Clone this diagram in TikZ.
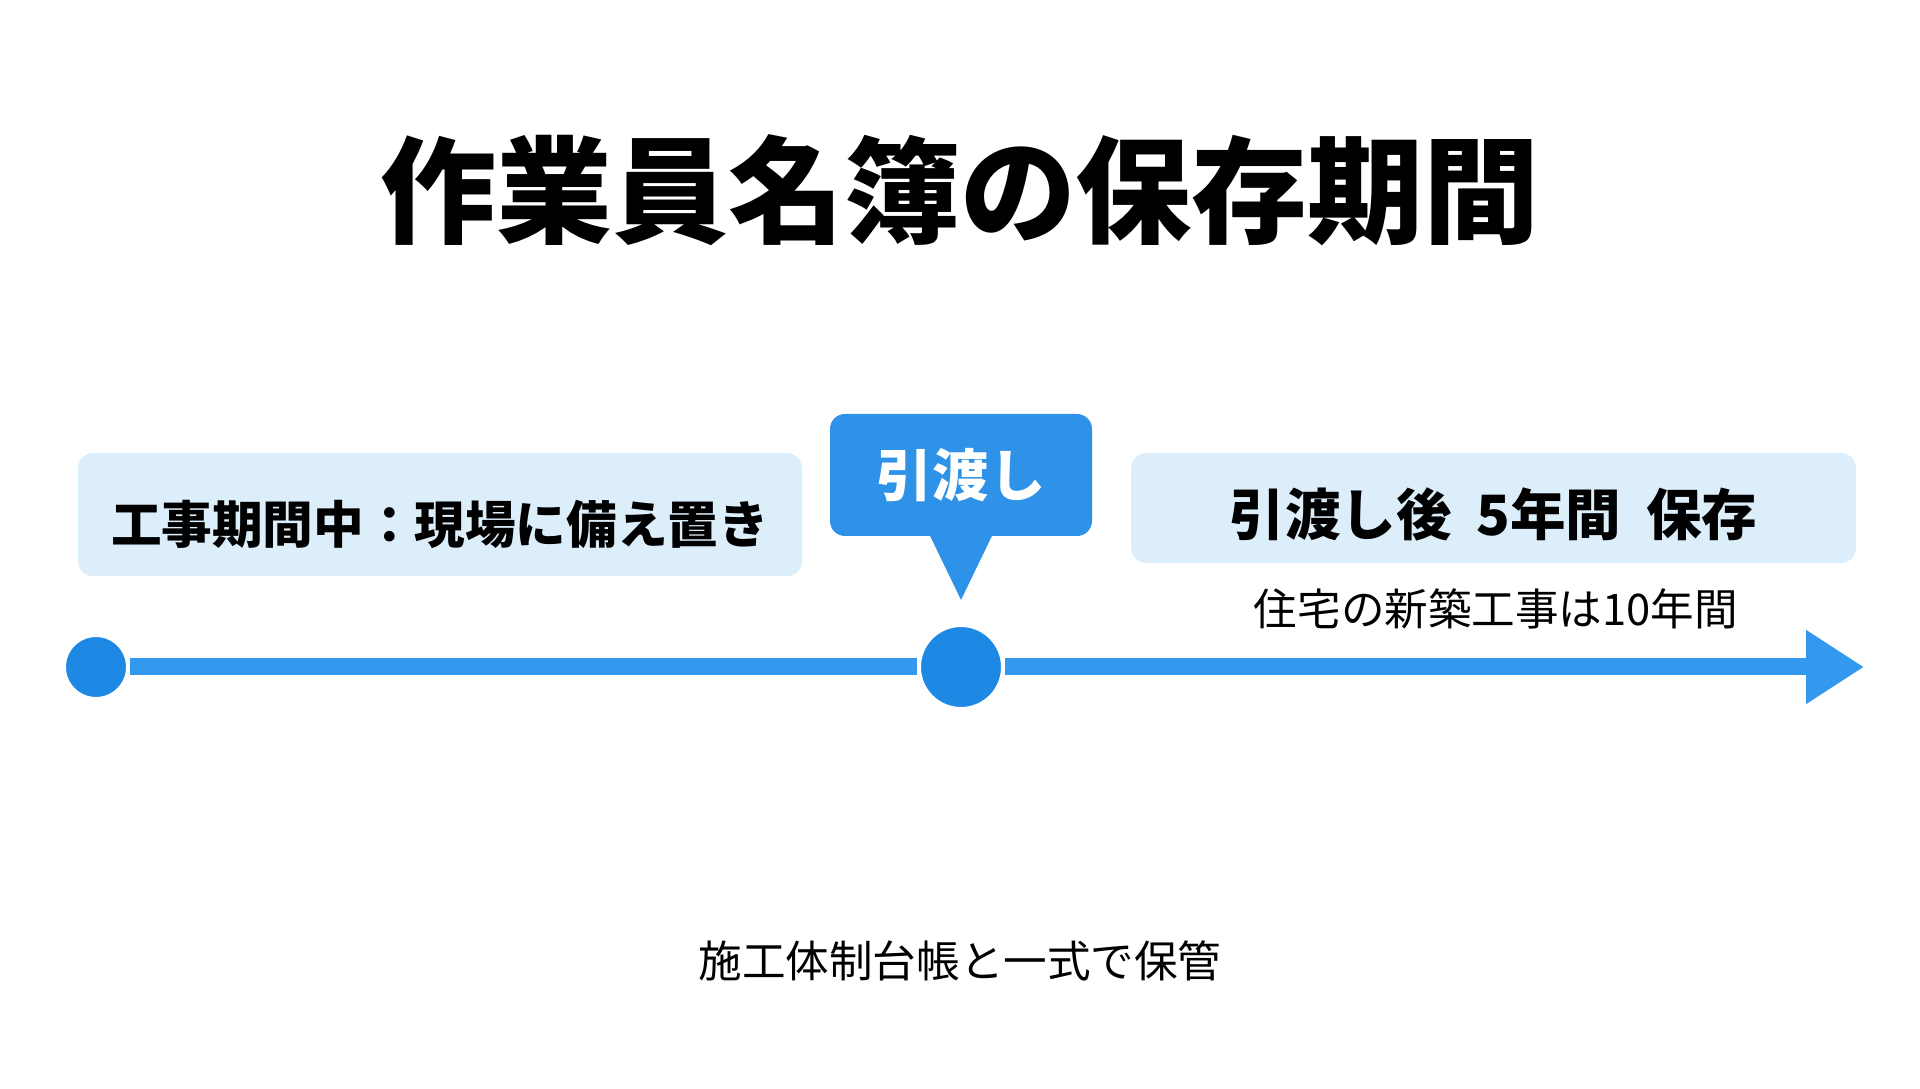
\documentclass[tikz,border=0pt]{standalone}
\usepackage{fontspec}
\usepackage{tikz}
\usetikzlibrary{arrows.meta}
\newfontfamily\jp{Noto Sans CJK JP}
\definecolor{paleblue}{HTML}{DDEEFB}
\definecolor{callblue}{HTML}{2E93E8}
\definecolor{lineblue}{HTML}{3399EE}
\definecolor{dotblue}{HTML}{1E88E5}
\tikzset{
  phasebox/.style={fill=paleblue,rounded corners=1.5mm,inner sep=0pt,font=\jp\bfseries\fontsize{15pt}{18pt}\selectfont},
  callbox/.style={fill=callblue,rounded corners=1.5mm,inner sep=0pt,text=white,font=\jp\bfseries\fontsize{16pt}{19pt}\selectfont},
  dot/.style={circle,fill=dotblue,draw=white,line width=0.4mm,inner sep=0pt},
  timeline/.style={lineblue,line width=1.7mm}
}

\begin{document}
\begin{tikzpicture}
\useasboundingbox[fill=white] (0,0) rectangle (19.2,10.88);
\node[font=\jp\bfseries\fontsize{33pt}{38pt}\selectfont] (title) at (9.6,8.98) {作業員名簿の保存期間};
\node[phasebox,minimum width=7.24cm,minimum height=1.23cm,font=\jp\bfseries\fontsize{14.4pt}{18pt}\selectfont] (during) at (4.40,5.735) {\raisebox{-1mm}[\height][\depth]{工事期間中：現場に備え置き}};
\node[phasebox,minimum width=7.25cm,minimum height=1.10cm,font=\jp\bfseries\fontsize{15.8pt}{19pt}\selectfont] (after) at (14.935,5.80) {\raisebox{-0.6mm}[\height][\depth]{引渡し後\hspace{0.45em}5年間\hspace{0.45em}保存}};
\node[font=\jp\fontsize{12.4pt}{15pt}\selectfont] (house) at (14.96,4.79) {住宅の新築工事は10年間};
\node[callbox,minimum width=2.62cm,minimum height=1.22cm] (handover) at (9.61,6.13) {引渡し};
\coordinate (tip) at (9.61,4.88);
\fill[callblue] ([xshift=-3.2mm,yshift=0.3mm]handover.south) -- (tip) -- ([xshift=3.2mm,yshift=0.3mm]handover.south) -- cycle;
\node[dot,minimum size=6.4mm] (start) at (0.96,4.21) {};
\node[dot,minimum size=8.4mm] (hand) at (9.61,4.21) {};
\coordinate (end) at (18.64,4.21);
\draw[timeline] (start) -- (hand);
\draw[timeline,-{Triangle[length=5.8mm,width=7mm]}] (hand) -- (end);
\node[font=\jp\fontsize{12.4pt}{15pt}\selectfont] (note) at (9.6,1.27) {施工体制台帳と一式で保管};
\end{tikzpicture}
\end{document}
